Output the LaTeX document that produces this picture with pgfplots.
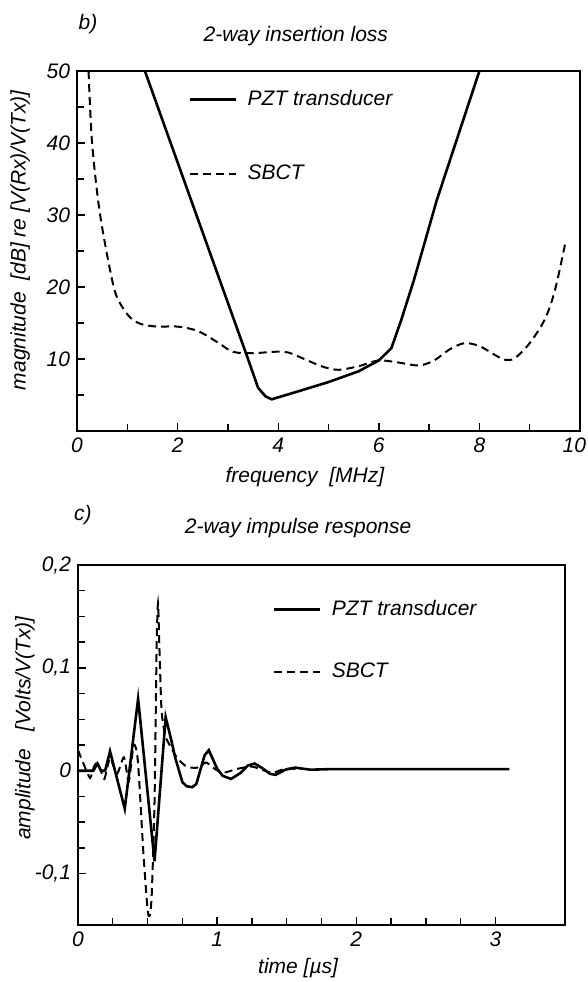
\documentclass[border=0pt]{standalone}
\usepackage{fontspec}
\setmainfont{Liberation Sans}
\usepackage{pgfplots}
\pgfplotsset{compat=1.18}

\newcommand{\lf}{\fontsize{10.5bp}{12bp}\selectfont\itshape}

\pgfplotsset{
  scanplot/.style={
    scale only axis,
    axis line style={line width=0.85bp},
    tick align=inside, tick pos=left,
    major tick length=4bp, minor tick length=3.5bp,
    every tick/.style={line width=0.7bp, black},
    tick label style={font=\lf},
    label style={font=\lf},
    title style={font=\lf},
    /pgf/number format/assume math mode=true,
    /pgf/number format/use comma,
    legend style={draw=none, fill=none, font=\lf, inner sep=0pt,
      nodes={inner sep=1bp, text height=7.5bp, text depth=2bp}},
    legend cell align=left,
    legend image code/.code={\draw[##1] (0bp,0bp) -- (23bp,0bp); \path (27bp,0bp);},
  },
  pzt/.style={black, line width=1.3bp},
  sbct/.style={black, line width=1.0bp, dash pattern=on 4bp off 2.5bp},
}

\begin{document}
\begin{tikzpicture}
\useasboundingbox (0,0) rectangle (294bp,-491bp);

% b) insertion loss
\begin{axis}[scanplot,
  at={(38.5bp,-215.5bp)}, anchor=south west,
  width=251.5bp, height=180bp,
  xmin=0, xmax=10, ymin=0, ymax=50,
  xtick={0,2,...,10}, xticklabels={0,2,4,6,8,{\makebox[0pt][r]{10\kern-3bp}}},
  ytick={10,20,...,50},
  minor x tick num=1, minor ytick={5,15,...,45},
  title={2-way insertion loss},
  title style={at={(axis description cs:0.435,1.064)}, anchor=center},
  xlabel={frequency\ \ [MHz]},
  xlabel style={at={(axis description cs:0.453,-0.128)}, anchor=center},
  ylabel={magnitude\ \ [dB] re [V(Rx)/V(Tx)]},
  ylabel style={at={(axis description cs:-0.113,0.53)}, anchor=center},
  legend style={at={(axis description cs:0.222,0.818)}, anchor=west, row sep=25.5bp},
  extra description/.code={\node[font=\lf] at (0.022,1.13) {b)};},
]
\addplot[pzt, sharp plot] coordinates {
(1.35,50) (2.4,29.5) (3.0,17.8) (3.4,10) (3.6,6.0) (3.75,4.8) (3.87,4.4)
(4.3,5.3) (5.0,6.8) (5.6,8.3) (6.0,9.8) (6.25,11.5) (6.45,15.5) (6.7,21)
(7.15,32) (8.0,50)};
\addlegendentry{PZT transducer}
\addplot[sbct, smooth, tension=0.5] coordinates {
(0.23,50) (0.30,40) (0.46,30) (0.73,20) (0.92,17) (1.1,15.5) (1.3,14.8)
(1.6,14.5) (2.0,14.5) (2.4,13.9) (2.8,12.3) (3.1,11.0) (3.5,10.8) (3.9,11.0)
(4.2,10.9) (4.55,9.9) (4.9,8.9) (5.2,8.5) (5.6,9.0) (6.0,9.8) (6.4,9.5)
(6.8,9.1) (7.1,9.8) (7.4,11.3) (7.7,12.2) (8.0,11.8) (8.3,10.6) (8.5,9.9)
(8.7,10.1) (9.0,12.2) (9.3,15.5) (9.5,19.5) (9.72,26.5)};
\addlegendentry{SBCT}
\end{axis}

% c) impulse response
\begin{axis}[scanplot,
  at={(39bp,-462.5bp)}, anchor=south west,
  width=243.5bp, height=180bp,
  xmin=0, xmax=3.5, ymin=-0.15, ymax=0.2,
  xtick={0,1,2,3}, ytick={-0.1,0,0.1,0.2},
  minor x tick num=3, minor y tick num=3,
  title={2-way impulse response},
  title style={at={(axis description cs:0.452,1.069)}, anchor=center},
  xlabel={time [µs]},
  xlabel style={at={(axis description cs:0.452,-0.12)}, anchor=center},
  ylabel={amplitude\ \ \ [Volts/V(Tx)]},
  ylabel style={at={(axis description cs:-0.109,0.547)}, anchor=center},
  legend style={at={(axis description cs:0.40,0.79)}, anchor=west, row sep=19.5bp},
  extra description/.code={\node[font=\lf] at (0.01,1.139) {c)};},
]
\addplot[pzt, sharp plot] coordinates {
(0,0) (0.11,0) (0.14,0.007) (0.165,0) (0.195,0) (0.23,0.019) (0.336,-0.037)
(0.432,0.07) (0.55,-0.088) (0.63,0.052) (0.67,0.03) (0.70,0.012) (0.75,-0.011)
(0.78,-0.015) (0.82,-0.016) (0.85,-0.013) (0.88,0.001) (0.91,0.015) (0.94,0.020)
(0.97,0.011) (1.0,0.002) (1.04,-0.005) (1.10,-0.008) (1.17,-0.002) (1.22,0.005)
(1.27,0.007) (1.33,0.002) (1.38,-0.003) (1.42,-0.004) (1.49,0.001) (1.56,0.003)
(1.67,0.001) (1.8,0.0015) (3.1,0.0015)};
\addlegendentry{PZT transducer}
\addplot[sbct, smooth, tension=0.4] coordinates {
(0,0.020) (0.045,0.005) (0.087,-0.007) (0.115,0.004) (0.14,0.008) (0.165,0.0)
(0.19,-0.008) (0.23,0.012) (0.28,-0.003) (0.33,0.013) (0.365,-0.010) (0.40,0.025)
(0.43,0.01) (0.47,-0.08) (0.50,-0.135) (0.515,-0.141) (0.53,-0.12) (0.55,-0.03)
(0.565,0.12) (0.575,0.163) (0.585,0.12) (0.60,0.06) (0.625,0.035) (0.655,0.026)
(0.71,0.013) (0.78,0.004) (0.86,0.003) (0.92,0.008) (0.97,0.003) (1.04,-0.002)
(1.15,0.002) (1.25,0.004) (1.32,0.001) (1.40,-0.002) (1.49,0.002) (1.6,0.0015)};
\addlegendentry{SBCT}
\end{axis}
\end{tikzpicture}
\end{document}
